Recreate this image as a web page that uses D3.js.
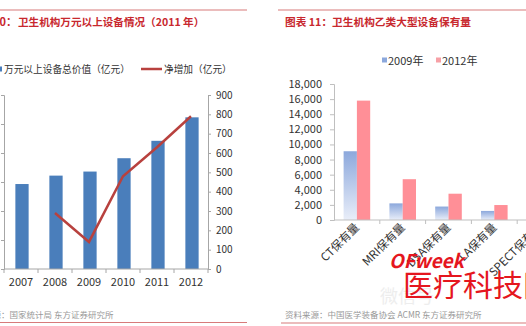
<!DOCTYPE html>
<html><head><meta charset="utf-8">
<script src="https://cdn.jsdelivr.net/npm/d3@7"></script>
<style>body{margin:0;background:#fff}svg{display:block}text{font-family:"Noto Sans CJK SC","Liberation Sans",sans-serif}</style>
</head><body><svg id="c" width="526" height="326"></svg>
<script>
// ---- Left chart data ----
const years = ["2007","2008","2009","2010","2011","2012"];
const totalValue = [2930, 3220, 3360, 3820, 4420, 5230];   // 万元以上设备总价值（亿元）, left axis
const netIncrease = [null, 290, 140, 480, 630, 790];        // 净增加（亿元）, right axis
const rightTicksL = [0,100,200,300,400,500,600,700,800,900];
// ---- Right chart data ----
const devices = ["CT保有量","MRI保有量","DSA保有量","LA保有量","SPECT保有量"];
const y2009 = [9100, 2200, 1780, 1200, 400];
const y2012 = [15800, 5400, 3480, 1980, 650];
const seriesNames = ["2009年","2012年"];
const yTicksR = [0,2000,4000,6000,8000,10000,12000,14000,16000,18000];

const svg = d3.select("#c");
const red = "#c8282e", lineRed = "#d77a7a", axisGray = "#a6a6a6", txt = "#333";

// ---------- LEFT CHART ----------
svg.append("line").attr("x1",0).attr("x2",247).attr("y1",10).attr("y2",10).attr("stroke",lineRed).attr("stroke-width",1.2);
svg.append("line").attr("x1",0).attr("x2",247).attr("y1",322.5).attr("y2",322.5).attr("stroke",lineRed).attr("stroke-width",1.2);
svg.append("text").attr("x",17).attr("y",26).attr("text-anchor","end").attr("font-size",11).attr("font-weight","bold").attr("fill",red)
  .text("图表 10：");
svg.append("text").attr("x",18).attr("y",26).attr("font-size",10.6).attr("font-weight","bold").attr("fill",red)
  .text("卫生机构万元以上设备情况（2011 年）");
// legend
svg.append("rect").attr("x",-3).attr("y",66.5).attr("width",5).attr("height",5).attr("fill","#4a7ebb");
svg.append("text").attr("x",4).attr("y",72.5).attr("font-size",9.7).attr("fill",txt).text("万元以上设备总价值（亿元）");
svg.append("line").attr("x1",141).attr("x2",162).attr("y1",69).attr("y2",69).attr("stroke","#b8413e").attr("stroke-width",2.5);
svg.append("text").attr("x",164).attr("y",72.5).attr("font-size",9.7).attr("fill",txt).text("净增加（亿元）");

const xL = d3.scaleBand().domain(years).range([4,208]);
const yL = d3.scaleLinear().domain([0,6000]).range([269,95]);
const yRL = d3.scaleLinear().domain([0,900]).range([269,95]);

const bw = xL.bandwidth()*0.39;
svg.append("g").selectAll("rect").data(years).join("rect")
  .attr("x",(d,i)=>xL(d)+xL.bandwidth()/2-bw/2+1).attr("width",bw)
  .attr("y",(d,i)=>yL(totalValue[i])).attr("height",(d,i)=>yL(0)-yL(totalValue[i]))
  .attr("fill","#4a7ebb");

// left axis (labels cropped off the picture)
const gLA = svg.append("g").attr("transform","translate(4,0)")
  .call(d3.axisLeft(yL).ticks(6).tickSize(3).tickFormat(""));
gLA.selectAll("path,line").attr("stroke",axisGray);
// right axis
const gRA = svg.append("g").attr("transform","translate(208,0)")
  .call(d3.axisRight(yRL).tickValues(rightTicksL).tickSize(3).tickPadding(5));
gRA.selectAll("path,line").attr("stroke",axisGray);
gRA.selectAll("text").attr("font-size",10).attr("fill",txt).attr("font-family","Liberation Sans, Arial, sans-serif");
// x axis
svg.append("line").attr("x1",4).attr("x2",208).attr("y1",269).attr("y2",269).attr("stroke",axisGray);
svg.append("g").selectAll("line").data(years.concat(["end"])).join("line")
  .attr("x1",(d,i)=>xL.range()[0]+i*xL.step()).attr("x2",(d,i)=>xL.range()[0]+i*xL.step())
  .attr("y1",269).attr("y2",273).attr("stroke",axisGray);
svg.append("g").selectAll("text").data(years).join("text")
  .attr("x",d=>xL(d)+xL.bandwidth()/2).attr("y",286).attr("text-anchor","middle")
  .attr("font-size",11).attr("fill",txt).attr("font-family","Liberation Sans, Arial, sans-serif").text(d=>d);
// line
const lineData = years.map((d,i)=>({d, v: netIncrease[i]})).filter(p=>p.v!=null);
svg.append("path").datum(lineData)
  .attr("d", d3.line().x(p=>xL(p.d)+xL.bandwidth()/2).y(p=>yRL(p.v)))
  .attr("fill","none").attr("stroke","#b8413e").attr("stroke-width",2.5);
svg.append("text").attr("x",-33).attr("y",318).attr("font-size",8.5).attr("fill","#999").text("资料来源：国家统计局 东方证券研究所");

// ---------- RIGHT CHART ----------
svg.append("line").attr("x1",278).attr("x2",526).attr("y1",10).attr("y2",10).attr("stroke",lineRed).attr("stroke-width",1.2);
svg.append("line").attr("x1",281).attr("x2",526).attr("y1",323).attr("y2",323).attr("stroke",lineRed).attr("stroke-width",1.2);
svg.append("text").attr("x",285).attr("y",26).attr("font-size",10.7).attr("font-weight","bold").attr("fill",red)
  .text("图表 11：卫生机构乙类大型设备保有量");

const defs = svg.append("defs");
const grad = defs.append("linearGradient").attr("id","g09").attr("x1",0).attr("y1",0).attr("x2",0).attr("y2",1);
grad.append("stop").attr("offset","0%").attr("stop-color","#8ca8dc");
grad.append("stop").attr("offset","100%").attr("stop-color","#e9eef9");
const colors = ["url(#g09)","#ff8f97"];
const legColors = ["#8ca8dc","#f7a0a6"];

// legend
const legX = [382, 436];
seriesNames.forEach((n,i)=>{
  svg.append("rect").attr("x",legX[i]).attr("y",57.5).attr("width",5).attr("height",5).attr("fill",legColors[i]);
  svg.append("text").attr("x",legX[i]+6).attr("y",64.5).attr("font-size",11).attr("fill",txt).text(n);
});

const xR = d3.scaleBand().domain(devices).range([334, 334+45.8*devices.length]);
const yR = d3.scaleLinear().domain([0,18000]).range([220,84]);
const gY = svg.append("g").attr("transform","translate(334,0)")
  .call(d3.axisLeft(yR).tickValues(yTicksR).tickSize(4).tickPadding(8).tickFormat(d3.format(",")));
gY.selectAll("path,line").attr("stroke","#bfbfbf");
gY.selectAll("text").attr("font-size",11).attr("fill",txt).attr("font-family","Liberation Sans, Arial, sans-serif");

const bw2 = 13.3;
[y2009, y2012].forEach((arr,s)=>{
  svg.append("g").selectAll("rect").data(devices).join("rect")
    .attr("x",(d)=>xR(d)+xR.bandwidth()/2-bw2+s*bw2).attr("width",bw2)
    .attr("y",(d,i)=>yR(arr[i])).attr("height",(d,i)=>yR(0)-yR(arr[i]))
    .attr("fill",colors[s]);
});
svg.append("line").attr("x1",334).attr("x2",526).attr("y1",220).attr("y2",220).attr("stroke","#bfbfbf");
svg.append("g").selectAll("line").data(devices).join("line")
  .attr("x1",(d,i)=>xR.range()[0]+(i+1)*xR.step()).attr("x2",(d,i)=>xR.range()[0]+(i+1)*xR.step())
  .attr("y1",220).attr("y2",224).attr("stroke","#bfbfbf");
svg.append("g").selectAll("text").data(devices).join("text")
  .attr("text-anchor","end").attr("font-size",11.5).attr("fill",txt)
  .attr("transform",d=>`translate(${xR(d)+xR.bandwidth()/2+3},228) rotate(-45)`).text(d=>d);

// watermark
svg.append("text").attr("x",380).attr("y",303).attr("font-size",18).attr("fill","#ddd").attr("opacity",0.5).text("微信号");
svg.append("text").attr("x",389).attr("y",268).attr("font-size",19).attr("font-weight","bold").attr("font-style","italic")
  .attr("fill","#e5161e").attr("font-family","Liberation Sans, Arial, sans-serif").text("OFweek");
svg.append("text").attr("x",403).attr("y",296).attr("font-size",30).attr("fill","#e5161e").text("医疗科技网");
svg.append("text").attr("x",285).attr("y",318).attr("font-size",8.5).attr("fill","#999").text("资料来源：中国医学装备协会  ACMR  东方证券研究所");
</script></body></html>
